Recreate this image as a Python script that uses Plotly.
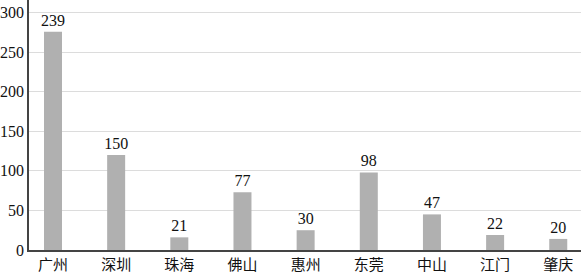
import plotly.graph_objects as go

cities = ["广州", "深圳", "珠海", "佛山", "惠州", "东莞", "中山", "江门", "肇庆"]
bar_heights = [276, 120, 16, 73, 25, 98, 45, 19, 14]
labels = ["239", "150", "21", "77", "30", "98", "47", "22", "20"]
y_ticks = [0, 50, 100, 150, 200, 250, 300]

font_fam = "Liberation Serif, Noto Sans CJK SC, serif"

fig = go.Figure()
fig.add_trace(go.Bar(
    x=list(range(len(cities))),
    y=bar_heights,
    text=labels,
    textposition="outside",
    constraintext="none",
    cliponaxis=False,
    textfont=dict(family=font_fam, size=16, color="#111"),
    marker=dict(color="#b0b0b0", line=dict(width=0)),
    width=0.285,
))

fig.update_layout(
    width=581, height=273,
    margin=dict(l=29, r=0, t=0, b=23),
    paper_bgcolor="white", plot_bgcolor="white",
    showlegend=False,
    font=dict(family=font_fam, size=16, color="#111"),
    xaxis=dict(
        range=[-0.38, 8.36],
        tickmode="array", tickvals=list(range(len(cities))), ticktext=cities,
        showline=True, linecolor="#444", linewidth=1.5,
        showgrid=False, ticks="", zeroline=False,
        tickfont=dict(family="Noto Sans CJK SC", size=15, color="#111"),
    ),
    yaxis=dict(
        range=[0, 316], tickvals=y_ticks,
        showline=True, linecolor="#444", linewidth=1.5,
        showgrid=True, gridcolor="#dcdcdc", gridwidth=1,
        ticks="", zeroline=False,
        tickfont=dict(family=font_fam, size=16, color="#111"),
    ),
)

fig.write_html("out.html")
